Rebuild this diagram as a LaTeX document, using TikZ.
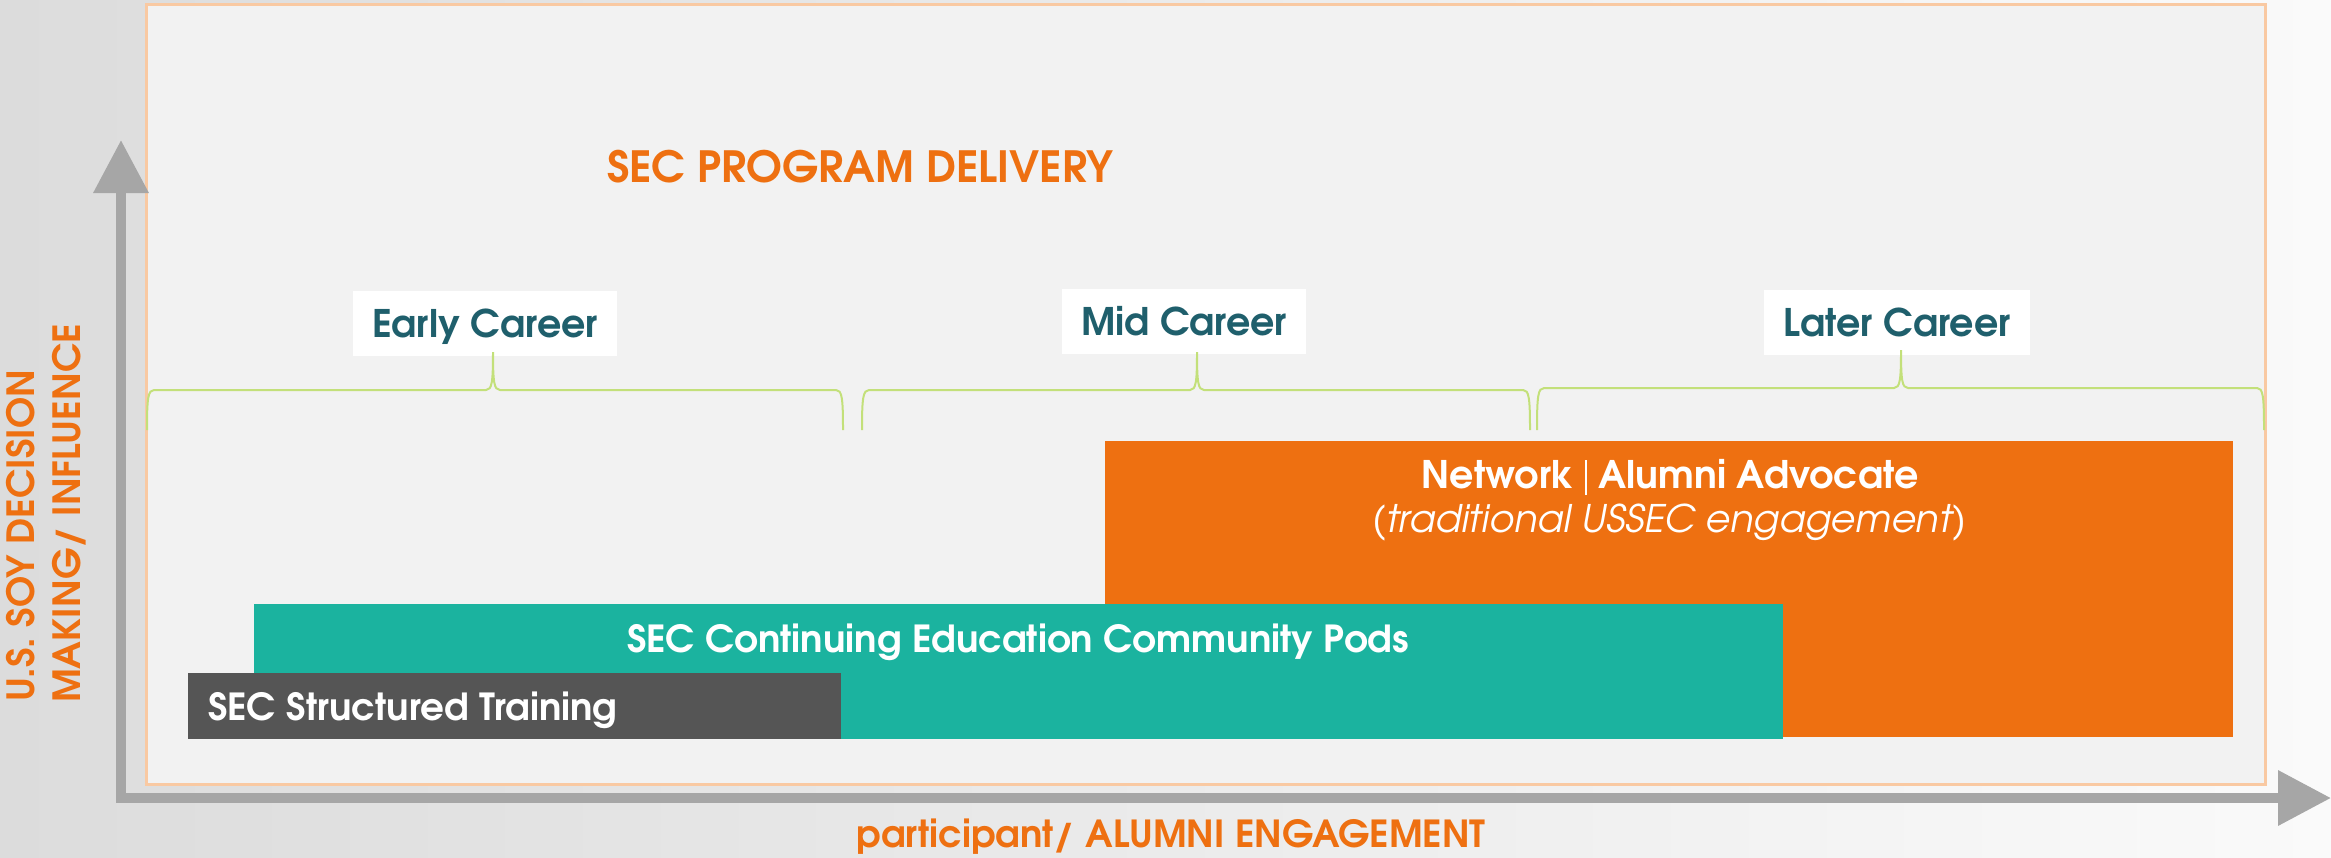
\documentclass[tikz,border=0pt]{standalone}
\usepackage{fontspec}
\setmainfont{texgyreadventor}[Extension=.otf,UprightFont=*-regular,BoldFont=*-bold,ItalicFont=*-italic,BoldItalicFont=*-bolditalic]
\usetikzlibrary{arrows.meta}
\definecolor{bgl}{HTML}{DCDCDC}
\definecolor{bgr}{HTML}{FAFAFA}
\definecolor{panel}{HTML}{F2F2F2}
\definecolor{panelline}{HTML}{F9C9A2}
\definecolor{sorange}{HTML}{EE7011}
\definecolor{steal}{HTML}{1BB39F}
\definecolor{sgray}{HTML}{555555}
\definecolor{axisgray}{HTML}{A6A6A6}
\definecolor{labteal}{HTML}{1F5F6C}
\definecolor{bracegreen}{HTML}{C3E07A}
\tikzset{
  bar/.style={draw=none,rectangle,inner sep=0pt,anchor=north west},
  labelbox/.style={fill=white,rectangle,inner sep=0pt,text=labteal,font=\fontsize{38}{40}\selectfont\bfseries,text height=28pt,text depth=0pt,minimum height=65pt},
  bartext/.style={text=white,inner sep=0pt,anchor=base,font=\fontsize{38}{40}\selectfont\bfseries},
  bracestyle/.style={draw=bracegreen,line width=2pt},
  axis/.style={draw=axisgray,line width=10pt,{Triangle[width=53pt,length=53pt]}-{Triangle[width=53pt,length=53pt]}},
  axlabel/.style={text=sorange,inner sep=0pt,font=\fontsize{37.5}{40}\selectfont\bfseries}
}
\newcommand\careerbrace[3]{%
  \draw[bracestyle] (#1,430) .. controls (#1,398) and ({#1+1},390) .. ({#1+7},390)
    -- ({#3-7},390) .. controls ({#3-1},390) and (#3,382) .. (#3,352)
    .. controls (#3,382) and ({#3+1},390) .. ({#3+7},390)
    -- ({#2-7},390) .. controls ({#2-1},390) and (#2,398) .. (#2,430);}
\begin{document}
\begin{tikzpicture}[x=1pt,y=-1pt]
\useasboundingbox (0,0) rectangle (2331,857);
\shade[left color=bgl,right color=bgr] (0,0) rectangle (2331,857);
% panel
\draw[panelline,line width=3pt,fill=panel] (146,4) rectangle (2265,784);
% axes
\coordinate (origin) at (121,798);
\coordinate (ytip) at (121,140);
\coordinate (xtip) at (2331,798);
\draw[axis] (ytip) -- (origin) -- (xtip);
% title
\node[text=sorange,inner sep=0pt,anchor=base,font=\fontsize{43}{45}\selectfont\bfseries] (title) at (860,182) {SEC PROGRAM DELIVERY};
% career labels
\node[labelbox,minimum width=264pt] (early) at (485,323.5) {Early Career};
\node[labelbox,minimum width=244pt] (mid) at (1184,321.5) {Mid Career};
\node[labelbox,minimum width=266pt] (later) at (1897,322.5) {Later Career};
% braces
\careerbrace{147}{843}{493}
\careerbrace{862}{1530}{1197}
\draw[bracestyle] (1537,430) .. controls (1537,396) and (1538,388) .. (1544,388)
    -- (1894,388) .. controls (1900,388) and (1901,380) .. (1901,350)
    .. controls (1901,380) and (1902,388) .. (1908,388)
    -- (2257,388) .. controls (2263,388) and (2264,396) .. (2264,430);
% bars
\node[bar,fill=sorange,minimum width=1128pt,minimum height=296pt] (network) at (1105,441) {};
\node[bar,fill=steal,minimum width=1529pt,minimum height=135pt] (pods) at (254,604) {};
\node[bar,fill=sgray,minimum width=653pt,minimum height=66pt] (training) at (188,673) {};
% bar texts
\node[bartext] (nettitle) at (1670,488) {Network\hspace{0.3em}\rule[-7pt]{2.5pt}{35pt}\hspace{0.3em}Alumni Advocate};
\node[bartext,font=\fontsize{38}{40}\selectfont\itshape] (netsub) at (1669,532) {(traditional USSEC engagement)};
\node[bartext,font=\fontsize{37.3}{40}\selectfont\bfseries] (podstext) at (1018,652) {SEC Continuing Education Community Pods};
\node[bartext,anchor=base west,font=\fontsize{37.3}{40}\selectfont\bfseries] (traintext) at (208,720) {SEC Structured Training};
% axis labels
\node[axlabel,rotate=90,anchor=base west] (ylab1) at (34,702) {U.S. SOY DECISION};
\node[axlabel,rotate=90,anchor=base west] (ylab2) at (80,703) {MAKING/ INFLUENCE};
\node[axlabel,anchor=base,font=\fontsize{37.3}{40}\selectfont\bfseries] (xlab) at (1171,847) {participant/ ALUMNI ENGAGEMENT};
\end{tikzpicture}
\end{document}
